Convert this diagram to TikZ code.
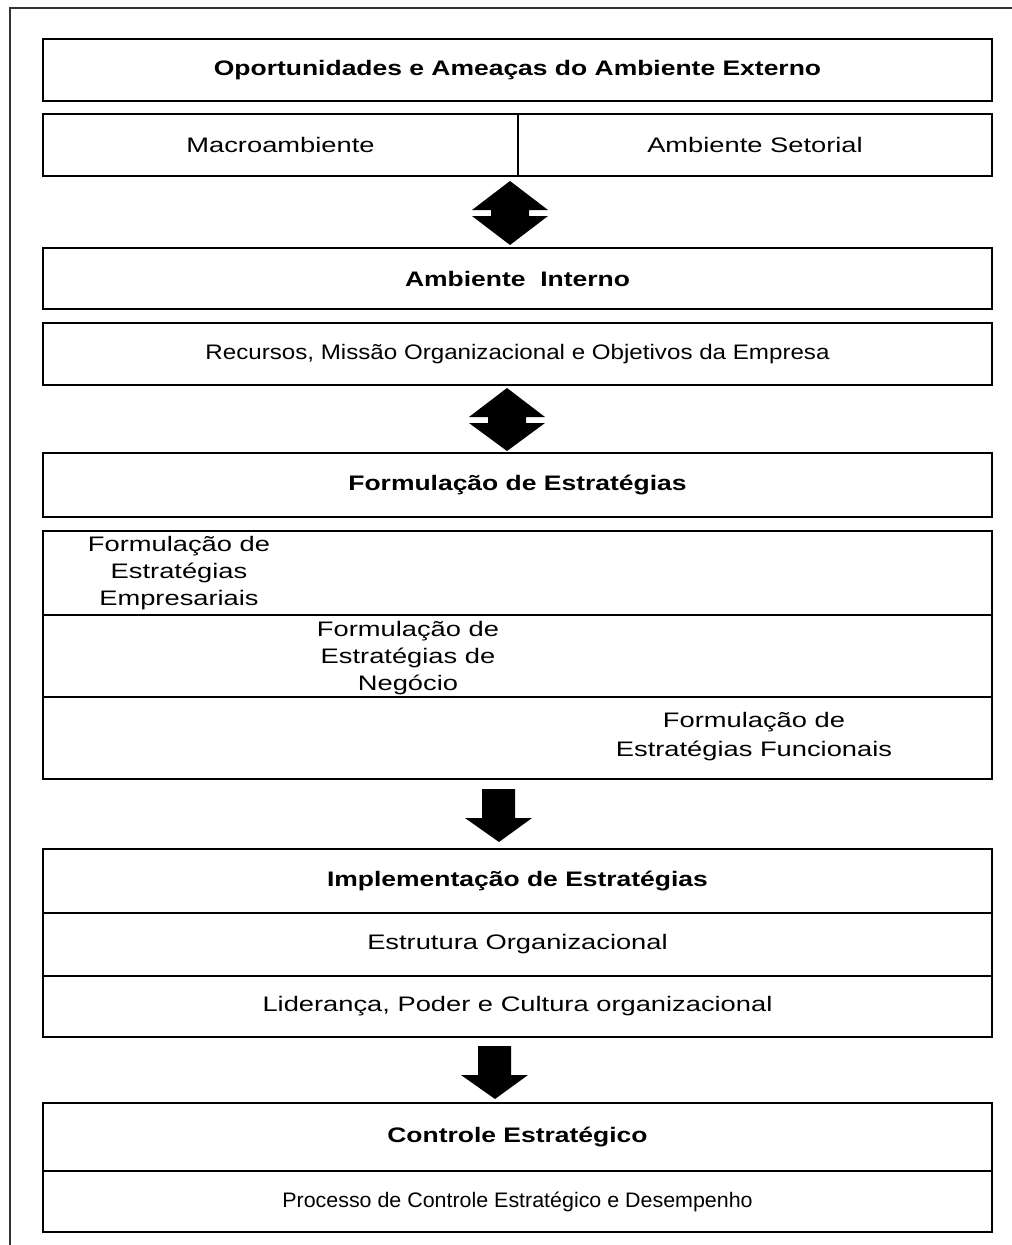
\documentclass[tikz,border=0pt]{standalone}
\usepackage{fontspec}
\setmainfont{Liberation Sans}[FakeStretch=1.3]
\newfontfamily\boldfam{Liberation Sans Bold}[FakeStretch=1.26]
\newfontfamily\narrowa{Liberation Sans}[FakeStretch=1.15]
\newfontfamily\narrowb{Liberation Sans}[FakeStretch=1.02]
\begin{document}
\begin{tikzpicture}[x=1pt,y=-1pt,
  font=\fontsize{21}{27}\selectfont,
  box/.style={draw, line width=2pt, minimum width=949pt, inner sep=0pt, anchor=north west, align=center},
  title/.style={box, font=\fontsize{21}{27}\selectfont\boldfam},
  half/.style={box, minimum width=#1},
  lbl/.style={inner sep=0pt, align=center, anchor=north},
  blockarrow/.style={fill=black, draw=none}]
\useasboundingbox (0,0) rectangle (1012,1245);
\draw[line width=1.5pt, black!80] (10,1245) -- (10,8) -- (1012,8);
% external environment
\node[title, minimum height=62pt] (ext) at (42,38) {Oportunidades e Ameaças do Ambiente Externo};
\node[half=475pt, minimum height=62pt] (macro) at (42,113) {Macroambiente};
\node[half=474pt, minimum height=62pt] (setor) at (517,113) {Ambiente Setorial};
% double arrow 1
\coordinate (da1) at (510,181);
\fill[blockarrow] (da1) -- ++(38,29) -- ++(-19,0) -- ++(0,6) -- ++(19,0) -- ++(-38,29) -- ++(-38,-29) -- ++(19,0) -- ++(0,-6) -- ++(-19,0) -- cycle;
% internal environment
\node[title, minimum height=61pt] (int) at (42,247) {Ambiente\ \ Interno};
\node[box, minimum height=62pt, font=\fontsize{21}{27}\selectfont\narrowa] (rec) at (42,322) {Recursos, Missão Organizacional e Objetivos da Empresa};
% double arrow 2
\coordinate (da2) at (507,388);
\fill[blockarrow] (da2) -- ++(38,29) -- ++(-19,0) -- ++(0,6) -- ++(19,0) -- ++(-38,28) -- ++(-38,-28) -- ++(19,0) -- ++(0,-6) -- ++(-19,0) -- cycle;
% formulation
\node[title, minimum height=64pt] (form) at (42,452) {Formulação de Estratégias};
\node[box, minimum height=84pt] (r1) at (42,530) {};
\node[box, minimum height=82pt] (r2) at (42,614) {};
\node[box, minimum height=82pt] (r3) at (42,696) {};
\node[lbl] (t1) at (179,536) {Formulação de\\Estratégias\\Empresariais};
\node[lbl] (t2) at (408,621) {Formulação de\\Estratégias de\\Negócio};
\node[lbl, font=\fontsize{21}{29.5}\selectfont] (t3) at (754,712) {Formulação de\\Estratégias Funcionais};
% down arrow 1
\coordinate (a1) at (499,842);
\fill[blockarrow] (a1) -- ++(33,-24) -- ++(-17,0) -- ++(0,-29) -- ++(-33,0) -- ++(0,29) -- ++(-17,0) -- cycle;
% implementation
\node[title, minimum height=64pt] (impl) at (42,848) {Implementação de Estratégias};
\node[box, minimum height=63pt] (estr) at (42,912) {Estrutura Organizacional};
\node[box, minimum height=61pt] (lid) at (42,975) {Liderança, Poder e Cultura organizacional};
% down arrow 2
\coordinate (a2) at (495,1099);
\fill[blockarrow] (a2) -- ++(33,-24) -- ++(-17,0) -- ++(0,-29) -- ++(-33,0) -- ++(0,29) -- ++(-17,0) -- cycle;
% control
\node[title, minimum height=68pt] (ctrl) at (42,1102) {Controle Estratégico};
\node[box, minimum height=61pt, font=\fontsize{21}{27}\selectfont\narrowb] (proc) at (42,1170) {Processo de Controle Estratégico e Desempenho};
\end{tikzpicture}
\end{document}
